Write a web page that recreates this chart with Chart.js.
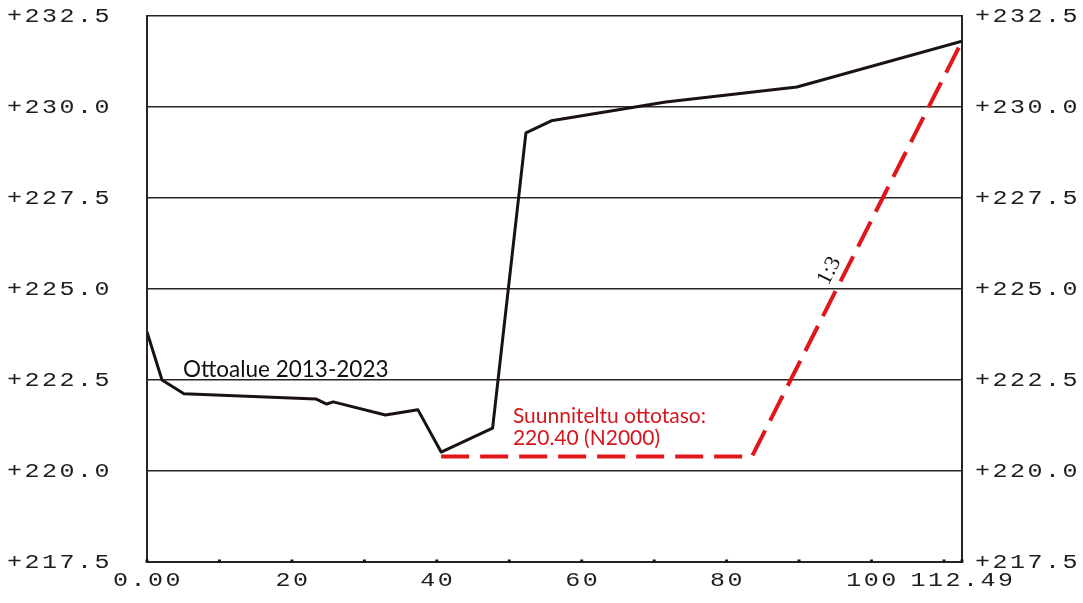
<!DOCTYPE html>
<html><head><meta charset="utf-8">
<script src="https://cdn.jsdelivr.net/npm/chart.js@4/dist/chart.umd.min.js"></script>
<style>html,body{margin:0;padding:0;background:#fff;}canvas{display:block;}</style>
</head><body>
<canvas id="c" width="1083" height="603"></canvas>
<script>
const stations = [0, 2.07, 5.1, 23.3, 24.8, 25.7, 32.9, 37.4, 40.6, 47.7, 52.3, 55.8, 71.6, 89.7, 112.49];
const surfaceLevels = [223.82, 222.5, 222.12, 221.98, 221.84, 221.90, 221.54, 221.68, 220.52, 221.18, 229.29, 229.62, 230.14, 230.55, 231.81];
const planStations = [40.6, 83.5, 112.49];
const planLevels = [220.40, 220.40, 231.81];
const yTickValues = [217.5, 220.0, 222.5, 225.0, 227.5, 230.0, 232.5];
const xTickValues = [0, 20, 40, 60, 80, 100, 112.49];
const xTickLabels = ['0.00', '20', '40', '60', '80', '100', '112.49'];
const xMinorTicks = [0, 10, 20, 30, 40, 50, 60, 70, 80, 90, 100, 110, 112.49];
const surfaceLabel = 'Ottoalue 2013-2023';
const planLabel = ['Suunniteltu ottotaso:', '220.40 (N2000)'];
const slopeLabel = '1:3';

const surfaceData = stations.map((s, i) => ({x: s, y: surfaceLevels[i]}));
const planData = planStations.map((s, i) => ({x: s, y: planLevels[i]}));

function cadText(ctx, text, x, y, align) {
  ctx.save();
  ctx.translate(x, y);
  ctx.scale(1.25, 1);
  ctx.textAlign = align;
  ctx.fillText(text, 0, 0);
  ctx.restore();
}

const labelsPlugin = {
  id: 'cadLabels',
  afterDraw(chart) {
    const ctx = chart.ctx, xs = chart.scales.x, ys = chart.scales.y, a = chart.chartArea;
    ctx.save();
    ctx.fillStyle = '#1a1414';
    xMinorTicks.forEach(v => {
      const px = xs.getPixelForValue(v);
      ctx.fillRect(px - 1.5, a.bottom - 2.5, 3, 3);
    });
    ctx.fillStyle = '#1e1e1e';
    ctx.font = '20px "Liberation Mono"';
    ctx.letterSpacing = '2px';
    ctx.textBaseline = 'middle';
    yTickValues.forEach(v => {
      const py = ys.getPixelForValue(v);
      const t = '+' + v.toFixed(1);
      cadText(ctx, t, a.left - 35, py + 1, 'right');
      cadText(ctx, t, a.right + 13, py + 1, 'left');
    });
    xTickValues.forEach((v, i) => {
      const px = xs.getPixelForValue(v);
      cadText(ctx, xTickLabels[i], px + 1, a.bottom + 19, 'center');
    });
    ctx.letterSpacing = '0px';
    ctx.textAlign = 'left';
    ctx.fillStyle = '#111';
    ctx.font = '22.5px Lato';
    ctx.fillText(surfaceLabel, xs.getPixelForValue(4.97), ys.getPixelForValue(222.77));
    ctx.fillStyle = '#d4161e';
    ctx.font = '21px Lato';
    ctx.fillText(planLabel[0], xs.getPixelForValue(50.5), ys.getPixelForValue(221.51));
    ctx.fillText(planLabel[1], xs.getPixelForValue(50.5), ys.getPixelForValue(220.91));
    ctx.fillStyle = '#111';
    ctx.font = '22px "Liberation Serif"';
    ctx.translate(xs.getPixelForValue(94.2), ys.getPixelForValue(225.5));
    ctx.rotate(-63 * Math.PI / 180);
    ctx.textAlign = 'center';
    ctx.fillText(slopeLabel, 0, 0);
    ctx.restore();
  }
};

new Chart(document.getElementById('c'), {
  type: 'line',
  data: {
    datasets: [
      {label: surfaceLabel, data: surfaceData, borderColor: '#1a1212', borderWidth: 3, pointRadius: 0, tension: 0, fill: false, borderJoinStyle: 'round'},
      {label: planLabel.join(' '), data: planData, borderColor: '#e0161d', borderWidth: 4, borderDash: [28, 11], pointRadius: 0, tension: 0, fill: false}
    ]
  },
  options: {
    responsive: false,
    devicePixelRatio: 1,
    animation: false,
    layout: {padding: {left: 147, right: 121, top: 16, bottom: 41}},
    plugins: {legend: {display: false}, tooltip: {enabled: false}},
    scales: {
      x: {
        type: 'linear', min: 0, max: 112.49,
        ticks: {display: false},
        grid: {display: false, drawTicks: false},
        border: {display: true, color: '#2a2420', width: 2}
      },
      y: {
        type: 'linear', min: 217.5, max: 232.5,
        afterBuildTicks: s => { s.ticks = yTickValues.map(v => ({value: v})); },
        ticks: {display: false},
        grid: {color: '#2a2420', lineWidth: 1.5, drawTicks: false},
        border: {display: true, color: '#2a2420', width: 2}
      },
      y2: {
        type: 'linear', position: 'right', min: 217.5, max: 232.5,
        ticks: {display: false},
        grid: {display: false, drawTicks: false},
        border: {display: true, color: '#2a2420', width: 2}
      }
    }
  },
  plugins: [labelsPlugin]
});
</script>
</body></html>
